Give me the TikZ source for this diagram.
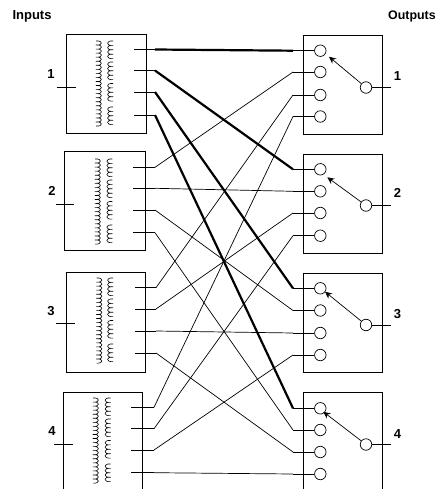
\documentclass[tikz,border=0pt]{standalone}
\usepackage{fontspec}
\setmainfont{Liberation Sans}
\usetikzlibrary{arrows.meta,calc}
\tikzset{
  box/.style={draw,line width=0.75pt},
  thin wire/.style={line width=0.7pt},
  thick wire/.style={line width=2.2pt},
  stub/.style={line width=0.7pt},
  pin/.style={circle,draw,line width=0.7pt,minimum size=11.5pt,inner sep=0pt,fill=white},
  lbl/.style={font=\bfseries\fontsize{13pt}{14pt}\selectfont,inner sep=0pt},
  coil/.style={line width=0.6pt,line join=round}
}
\begin{document}
\begin{tikzpicture}[x=1pt,y=1pt]
\useasboundingbox (0,0) rectangle (436,-489);
\clip (0,0) rectangle (436,-489);
\node[lbl] (inlbl) at (32,-16) {Inputs};
\node[lbl,font=\bfseries\fontsize{12.4pt}{14pt}\selectfont,anchor=west] (outlbl) at (388,-16.5) {Outputs};
% input boxes
\draw[box] (66,-34) rectangle (146,-133);
\draw[box] (64.7,-151.7) rectangle (145,-250.5);
\draw[box] (66,-272) rectangle (145.6,-372);
\draw[box] (63.5,-495) |- (142.7,-392) -- (142.7,-495);
% output boxes
\draw[box] (303.3,-35.5) rectangle (382.7,-134.5);
\draw[box] (303.3,-154.3) rectangle (382.7,-253.7);
\draw[box] (303.3,-273.3) rectangle (382.7,-372.7);
\draw[box] (303.3,-495) |- (382.7,-392.7) -- (382.7,-495);
% coils
\foreach \xa/\xb/\yt in {96/113/41,95/112.3/159,96.5/113/278,93/110.5/398} {
  \begin{scope}[shift={(\xa,-\yt)}]
    \draw[coil] (0,0) \foreach \i in {1,...,21} {
      .. controls ({7.3},{-(\i-1)*4.05+0.7}) and ({7.3},{-\i*4.05-0.7}) .. (0,{-\i*4.05}) };
  \end{scope}
  \foreach \s in {0,21,42.5,66} {
    \begin{scope}[shift={(\xb,-\yt-\s)}]
      \draw[coil] (0,0) \foreach \i in {1,...,4} {
        .. controls ({-7.3},{-(\i-1)*4.4+0.7}) and ({-7.3},{-\i*4.4-0.7}) .. (0,{-\i*4.4}) };
    \end{scope}
  }
}
% labels and primaries
\foreach \n/\lx/\ly/\sa/\sb/\sy in {1/51/-74/57.3/75.7/-87,2/52/-191/56/74.3/-204.5,3/51/-311/56/75/-323,4/52/-431/54.3/72.7/-444.7} {
  \node[lbl] (il\n) at (\lx,\ly) {\n};
  \coordinate (pa\n) at (\sa,\sy);
  \coordinate (pb\n) at (\sb,\sy);
  \draw[stub] (pa\n) -- (pb\n);
}
% input taps
\foreach \b/\xl/\xr/\ya/\yb/\yc/\yd in {1/134/155/-49.5/-70.5/-92/-115,2/133.3/155/-167.3/-188.3/-210/-232.7,3/135/156/-287.7/-309/-331/-353,4/131/154/-407.3/-428.7/-450/-472.7} {
  \foreach \c/\yy in {1/\ya,2/\yb,3/\yc,4/\yd} {
    \coordinate (i\b\c) at (\xr,\yy);
    \coordinate (il\b\c) at (\xl,\yy);
    \draw[stub] (il\b\c) -- (i\b\c);
  }
}
% output switches
\foreach \b/\ya/\yb/\yc/\yd/\ys/\hx/\hy/\ld in {1/-50.7/-72/-95/-116.5/-87.5/8.7/-6/11,2/-169.3/-191.3/-213/-235.7/-205.5/7/-8/12.5,3/-288.3/-310.5/-333/-355/-325/4.7/-3.4/11,4/-408.3/-430/-452/-474/-444.5/3/-3.5/10.8} {
  \foreach \c/\yy in {1/\ya,2/\yb,3/\yc,4/\yd} {
    \node[pin] (o\b\c) at (320.3,\yy) {};
    \coordinate (t\b\c) at (293,\yy);
    \draw[stub] (t\b\c) -- (o\b\c);
  }
  \node[pin] (s\b) at (366,\ys) {};
  \coordinate (e\b) at (391,\ys);
  \draw[stub] (s\b) -- (e\b);
  \node[lbl] (ol\b) at (397.5,\ys+\ld) {\b};
  \coordinate (h\b) at ($(o\b1)+(\hx,\hy)$);
  \draw[line width=0.7pt,-{Stealth[length=7pt,width=6.5pt]}] (s\b) -- (h\b);
}
% wires
\foreach \b in {1,2,3,4} {
  \draw[thick wire] (i1\b) -- (t\b1);
}
\foreach \a in {2,3,4} { \foreach \b in {1,2,3,4} {
  \draw[thin wire] (i\a\b) -- (t\b\a);
}}
\end{tikzpicture}
\end{document}
